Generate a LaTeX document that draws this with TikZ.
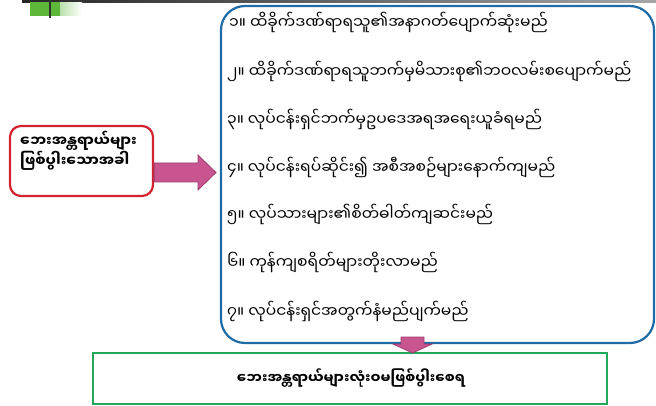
\documentclass[tikz,border=0pt]{standalone}
\usepackage{fontspec}
\newfontfamily\my[Script=Myanmar]{Noto Sans Myanmar UI}
\definecolor{boxblue}{HTML}{1F6BA5}
\definecolor{boxred}{HTML}{D2232E}
\definecolor{boxgreen}{HTML}{22A85A}
\definecolor{arrowpink}{HTML}{C8558F}
\definecolor{arrowedge}{HTML}{9C3C6E}
\definecolor{hdrgreen}{HTML}{5DB83A}
\begin{document}
\begin{tikzpicture}[x=1pt,y=-1pt,
  item/.style={anchor=west,inner sep=0pt,font=\my\fontsize{15.5}{18}\selectfont},
  bold/.style={inner sep=0pt,font=\my\bfseries\fontsize{14}{18}\selectfont},
  blockarrow/.style={fill=arrowpink,draw=arrowedge,line width=0.8pt}]
\useasboundingbox (0,0) rectangle (656,406);
% header fragment
\shade[left color=black!85,right color=black!35] (22,0) rectangle (656,2.5);
\shade[left color=hdrgreen,right color=white] (30,2.5) rectangle (82,16);
\fill[hdrgreen] (30,2.5) rectangle (60,16);
\draw[black!80,line width=2pt] (50,0) -- (50,18);
% boxes
\draw[boxblue,line width=2.2pt,rounded corners=24pt] (221,6) rectangle (654,343);
\node[draw=boxred,line width=2.2pt,rounded corners=11pt,minimum width=143pt,minimum height=70pt,inner sep=0pt] (cause) at (81.5,161) {};
\node[bold,anchor=west,align=left,font=\my\bfseries\fontsize{14.5}{18}\selectfont] (causetxt) at (20,151) {ဘေးအန္တရာယ်များ\\ဖြစ်ပွါးသောအခါ};
\node[draw=boxgreen,line width=2.2pt,minimum width=514pt,minimum height=51pt,inner sep=0pt] (result) at (350,378.5) {};
\node[bold] (resulttxt) at (351,378) {ဘေးအန္တရာယ်များလုံးဝမဖြစ်ပွါးစေရ};
% items
\node[item] (i1) at (229,22) {၁။ ထိခိုက်ဒဏ်ရာရသူ၏အနာဂတ်ပျောက်ဆုံးမည်};
\node[item] (i2) at (227,71) {၂။ ထိခိုက်ဒဏ်ရာရသူဘက်မှမိသားစု၏ဘဝလမ်းစပျောက်မည်};
\node[item] (i3) at (227,119) {၃။ လုပ်ငန်းရှင်ဘက်မှဥပဒေအရအရေးယူခံရမည်};
\node[item] (i4) at (227,167) {၄။ လုပ်ငန်းရပ်ဆိုင်း၍ အစီအစဉ်များနောက်ကျမည်};
\node[item] (i5) at (227,214) {၅။ လုပ်သားများ၏စိတ်ဓါတ်ကျဆင်းမည်};
\node[item] (i6) at (227,262) {၆။ ကုန်ကျစရိတ်များတိုးလာမည်};
\node[item] (i7) at (227,311) {၇။ လုပ်ငန်းရှင်အတွက်နံမည်ပျက်မည်};
% arrows
\draw[blockarrow] (cause.east|-0,163) -- (198,163) -- (198,155) -- (216,172.5) -- (198,190) -- (198,182) -- (cause.east|-0,182) -- cycle;
\draw[blockarrow] (401,337) -- (424,337) -- (424,344) -- (432,344) -- (412.5,353) -- (393,344) -- (401,344) -- cycle;
\end{tikzpicture}
\end{document}
